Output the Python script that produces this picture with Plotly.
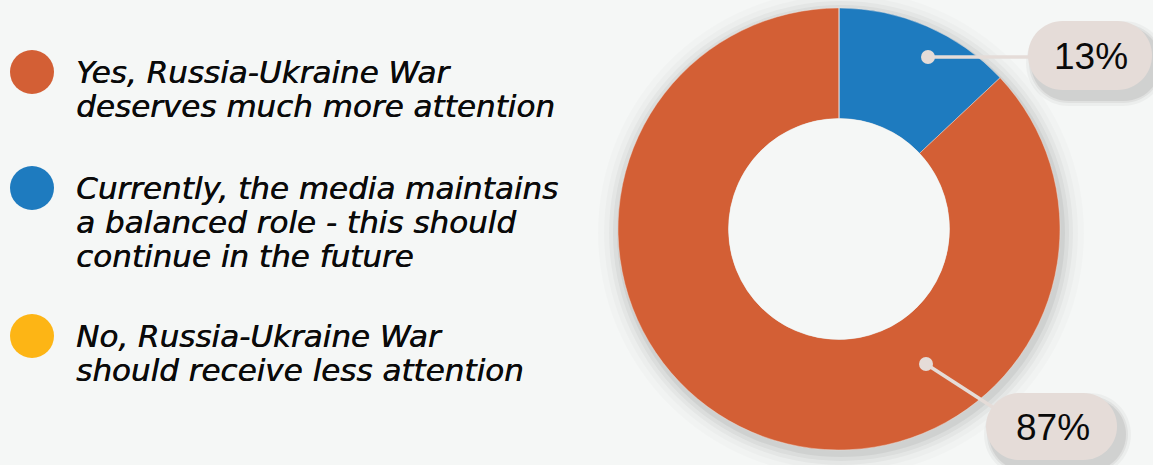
import plotly.graph_objects as go

categories = [
    "Yes, Russia-Ukraine War<br>deserves much more attention",
    "Currently, the media maintains<br>a balanced role - this should<br>continue in the future",
    "No, Russia-Ukraine War<br>should receive less attention",
]
values = [87, 13, 0]
colors = ["#D35F35", "#1E7BBF", "#FDB515"]

W, H = 1153, 465
BG = "#F5F7F6"
BOX = "#E5DCD8"
FONT = "DejaVu Sans, sans-serif"
LFONT = "Liberation Sans, Arial, sans-serif"

fig = go.Figure()

# donut: centre (839, 229), radius 221 px; slices drawn clockwise from 12 o'clock
order = [1, 0, 2]
cx, cy, R = 839, 229, 221
fig.add_trace(go.Pie(
    values=[values[i] for i in order],
    labels=[categories[i].replace("<br>", " ") for i in order],
    marker=dict(colors=[colors[i] for i in order], line=dict(color="rgba(240,230,225,0.7)", width=0.6)),
    hole=0.5,
    sort=False,
    direction="clockwise",
    rotation=0,
    textinfo="none",
    hoverinfo="label+percent",
    showlegend=False,
    domain=dict(x=[(cx - R) / W, (cx + R) / W], y=[(H - cy - R) / H, (H - cy + R) / H]),
))

# invisible pixel-coordinate axes for decorations
fig.add_trace(go.Scatter(x=[0, W], y=[0, H], mode="markers", marker=dict(opacity=0),
                         hoverinfo="skip", showlegend=False))
fig.update_xaxes(range=[0, W], visible=False, fixedrange=True)
fig.update_yaxes(range=[H, 0], visible=False, fixedrange=True)

shapes = []

# soft shadow behind donut
for d, op in [(22, 0.015), (16, 0.02), (11, 0.03), (7, 0.04), (3, 0.05)]:
    shapes.append(dict(type="circle", xref="x", yref="y", layer="below",
                       x0=cx - R - d + 2, x1=cx + R + d + 2, y0=cy - R - d + 4, y1=cy + R + d + 4,
                       fillcolor=f"rgba(0,0,0,{op})", line=dict(width=0)))
# donut hole in background colour
shapes.append(dict(type="circle", xref="x", yref="y", layer="above",
                   x0=cx - R / 2, x1=cx + R / 2, y0=cy - R / 2, y1=cy + R / 2,
                   fillcolor=BG, line=dict(width=0)))


def pill(x0, y0, x1, y1):
    r = (y1 - y0) / 2
    k = 0.5523 * r
    ym = (y0 + y1) / 2
    return (f"M {x0 + r},{y0} L {x1 - r},{y0} "
            f"C {x1 - r + k},{y0} {x1},{ym - k} {x1},{ym} "
            f"C {x1},{ym + k} {x1 - r + k},{y1} {x1 - r},{y1} "
            f"L {x0 + r},{y1} "
            f"C {x0 + r - k},{y1} {x0},{ym + k} {x0},{ym} "
            f"C {x0},{ym - k} {x0 + r - k},{y0} {x0 + r},{y0} Z")


label_specs = [
    # (value index, dot, box)
    (1, (928, 57), (1028, 21, 1152, 90)),
    (0, (926, 364), (986, 393, 1117, 460)),
]

for idx, (dx, dy), (bx0, by0, bx1, by1) in label_specs:
    for d, op in [(8, 0.035), (5, 0.05), (3, 0.07)]:
        shapes.append(dict(type="path", xref="x", yref="y",
                           path=pill(bx0 - d + 6, by0 - d + 8, bx1 + d + 6, by1 + d + 8),
                           fillcolor=f"rgba(0,0,0,{op})", line=dict(width=0)))
    if idx == 1:
        ex, ey = bx0 + 5, dy
    else:
        ex, ey = bx0 + 8, by0 + 15
    shapes.append(dict(type="line", xref="x", yref="y", x0=dx, y0=dy, x1=ex, y1=ey,
                       line=dict(color=BOX, width=3.5)))
    shapes.append(dict(type="circle", xref="x", yref="y", x0=dx - 7, x1=dx + 7, y0=dy - 7, y1=dy + 7,
                       fillcolor=BOX, line=dict(width=0)))
    shapes.append(dict(type="path", xref="x", yref="y", path=pill(bx0, by0, bx1, by1),
                       fillcolor=BOX, line=dict(width=0)))
    fig.add_annotation(x=(bx0 + bx1) / 2 + 1, y=(by0 + by1) / 2 + 1, xref="x", yref="y",
                       text=f"{values[idx]}%", showarrow=False,
                       font=dict(family=LFONT, size=37, color="#0A0A0A"))

# custom legend
legend_y = [72, 188, 336]
line_h = 34
for cat, col, ly in zip(categories, colors, legend_y):
    shapes.append(dict(type="circle", xref="x", yref="y", x0=10, x1=54, y0=ly - 22, y1=ly + 22,
                       fillcolor=col, line=dict(width=0)))
    for j, line in enumerate(cat.split("<br>")):
        fig.add_annotation(x=74, y=ly + j * line_h, xref="x", yref="y", xanchor="left", yanchor="middle",
                           text=f"<i>{line}</i>", showarrow=False, align="left",
                           font=dict(family=FONT, size=31, color="#0A0A0A",
                                     shadow="0.5px 0px 0px #0A0A0A"))

fig.update_layout(
    width=W, height=H,
    margin=dict(l=0, r=0, t=0, b=0),
    paper_bgcolor=BG, plot_bgcolor=BG,
    shapes=shapes,
)

fig.write_html("out.html", config={"displayModeBar": False},
               post_script="document.body.style.margin='0';")
